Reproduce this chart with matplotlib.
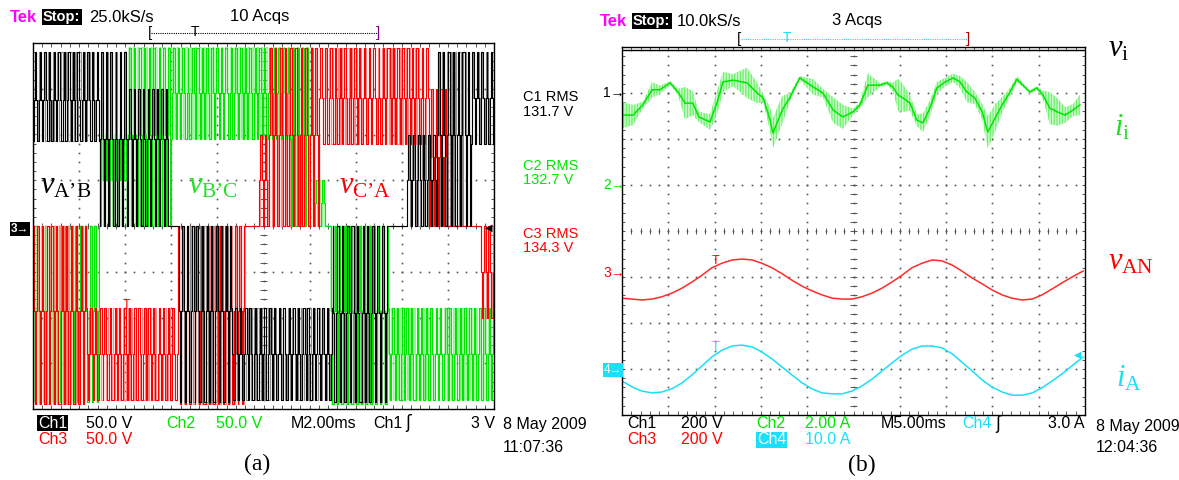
import numpy as np
import matplotlib
matplotlib.use('Agg')
import matplotlib.pyplot as plt

W, H = 1179, 480
plt.rcParams['mathtext.fontset'] = 'custom'
plt.rcParams['mathtext.rm'] = 'Liberation Serif'
plt.rcParams['mathtext.it'] = 'Liberation Serif:italic'

# ---------------- panel (a): PWM line voltages -----------------
# segments: [t_start, t_end, peak level, middle level, base level]  (divisions)
CH1_A_SEGS = [
    [0.00, 1.45, 3.80, 2.75, 1.85],
    [1.45, 2.05, 3.80, 1.90, 0.00],
    [2.05, 2.95, 3.00, 1.90, 0.00],
    [3.15, 4.30, -3.85, -1.85, 0.00],
    [4.30, 6.50, -3.80, -2.80, -1.80],
    [6.50, 7.70, -3.85, -1.90, 0.00],
    [8.10, 8.75, 2.00, 1.00, 0.00],
    [8.75, 9.50, 3.80, 2.00, 0.00],
    [9.50, 10.0, 3.80, 2.80, 1.80],
]
CH2_A_SEGS = [
    [0.00, 1.45, -3.85, -1.85, 0.00],
    [1.45, 2.05, 2.00, 1.00, 0.00],
    [2.05, 3.00, 3.90, 2.00, 0.00],
    [3.00, 5.60, 3.90, 2.90, 1.90],
    [5.60, 6.10, 3.90, 2.00, 0.00],
    [6.10, 6.35, 1.00, 0.50, 0.00],
    [6.45, 7.70, -3.90, -1.85, 0.00],
    [7.70, 10.0, -3.80, -2.80, -1.80],
]
CH3_A_SEGS = [
    [0.00, 1.15, -3.90, -1.85, 0.00],
    [1.15, 3.15, -3.80, -2.80, -1.80],
    [3.15, 4.60, -3.90, -1.85, 0.00],
    [4.90, 5.10, 2.00, 1.00, 0.00],
    [5.10, 6.20, 3.90, 2.00, 0.00],
    [6.20, 8.60, 3.90, 2.80, 1.80],
    [8.60, 9.00, 3.00, 1.50, 0.00],
    [9.70, 10.0, -2.00, -1.00, 0.00],
]
SW_PERIOD = 0.105
DUTY_BASE = [0.12, 0.20, 0.08, 0.26, 0.15, 0.05, 0.22, 0.10, 0.18]
DUTY_MID = [0.32, 0.38, 0.28, 0.42, 0.35, 0.25, 0.40, 0.30, 0.36]
RMS_LABELS = ["C1 RMS", "131.7 V", "C2 RMS", "132.7 V", "C3 RMS", "134.3 V"]

# ---------------- panel (b) -----------------
VI_LEVEL = 3.93
T_II = [0.02, 0.24, 0.45, 0.65, 0.82, 1.04, 1.21, 1.36, 1.53, 1.66, 1.90, 2.05, 2.18, 2.40,
        2.70, 2.92, 3.05, 3.20, 3.26, 3.46, 3.63, 3.84, 4.13, 4.34, 4.56, 4.77, 4.99, 5.14,
        5.31, 5.57, 5.72, 5.85, 5.96, 6.07, 6.22, 6.37, 6.50, 6.65, 6.80, 6.98, 7.15, 7.30,
        7.45, 7.62, 7.78, 7.90, 8.06, 8.21, 8.38, 8.53, 8.66, 8.81, 8.96, 9.09, 9.24, 9.40,
        9.57, 9.74, 9.89]
II = [2.52, 2.52, 2.74, 3.07, 3.07, 3.22, 3.02, 2.78, 2.78, 2.48, 2.37, 2.78, 3.24, 3.28,
      3.22, 3.00, 2.89, 2.41, 2.13, 2.63, 2.91, 3.33, 3.13, 3.00, 2.63, 2.48, 2.59, 2.74,
      3.17, 3.17, 3.22, 3.13, 2.96, 2.89, 2.78, 2.41, 2.35, 2.67, 3.11, 3.24, 3.33, 3.24,
      3.02, 2.89, 2.59, 2.15, 2.46, 2.74, 3.02, 3.30, 3.17, 3.02, 3.11, 2.96, 2.67, 2.59,
      2.52, 2.63, 2.74]
II_RIPPLE = [0.28, 0.22, 0.07, 0.17, 0.09, 0.04, 0.07, 0.35, 0.26, 0.11, 0.17, 0.26, 0.22, 0.13,
             0.33, 0.22, 0.09, 0.26, 0.33, 0.30, 0.09, 0.04, 0.17, 0.09, 0.28, 0.26, 0.07, 0.07,
             0.26, 0.04, 0.04, 0.09, 0.35, 0.30, 0.17, 0.13, 0.20, 0.17, 0.13, 0.09, 0.09, 0.13,
             0.22, 0.13, 0.17, 0.35, 0.30, 0.17, 0.09, 0.07, 0.04, 0.04, 0.04, 0.09, 0.35, 0.30,
             0.17, 0.13, 0.22]
T_SINE = [0.00, 0.22, 0.43, 0.65, 0.86, 1.08, 1.30, 1.51, 1.73, 1.94, 2.16, 2.38, 2.59, 2.81,
          3.02, 3.24, 3.46, 3.67, 3.89, 4.10, 4.32, 4.54, 4.75, 4.97, 5.18, 5.40, 5.62, 5.83,
          6.05, 6.26, 6.48, 6.70, 6.91, 7.13, 7.34, 7.56, 7.78, 7.99, 8.21, 8.42, 8.64, 8.86,
          9.07, 9.29, 9.50, 9.72, 9.96]
VAN = [-1.46, -1.48, -1.50, -1.48, -1.43, -1.35, -1.24, -1.11, -0.96, -0.80, -0.70, -0.63,
       -0.61, -0.63, -0.70, -0.80, -0.93, -1.07, -1.20, -1.30, -1.39, -1.46, -1.48, -1.48,
       -1.43, -1.35, -1.24, -1.11, -0.96, -0.80, -0.70, -0.63, -0.65, -0.74, -0.87, -1.02,
       -1.15, -1.28, -1.39, -1.46, -1.50, -1.48, -1.39, -1.26, -1.13, -1.00, -0.87]
IA = [-3.26, -3.39, -3.48, -3.52, -3.50, -3.43, -3.30, -3.13, -2.93, -2.74, -2.59, -2.50,
      -2.48, -2.52, -2.63, -2.78, -2.96, -3.13, -3.30, -3.43, -3.52, -3.54, -3.54, -3.48,
      -3.37, -3.22, -3.04, -2.87, -2.70, -2.57, -2.50, -2.50, -2.54, -2.67, -2.85, -3.04,
      -3.24, -3.39, -3.50, -3.57, -3.57, -3.52, -3.41, -3.26, -3.11, -2.93, -2.74]

BLACK, GRAY = '#000000', '#8a8a8a'
GREEN, LGREEN = '#00e600', '#86f586'
RED, LRED = '#ff0000', '#ff8c8c'
CYAN = '#18e0f8'
MAG = '#ff00ff'
SANS = 'Liberation Sans'
SERIF = 'Liberation Serif'
APOS = '\u2019'

fig = plt.figure(figsize=(W / 100, H / 100), dpi=100)
fig.patch.set_facecolor('white')


def px_axes(x0, y0, x1, y1):
    return fig.add_axes([x0 / W, 1 - y1 / H, (x1 - x0) / W, (y1 - y0) / H])


def T(x, y, s, ha='left', va='center', **kw):
    kw.setdefault('family', SANS)
    return fig.text(x / W, 1 - y / H, s, ha=ha, va=va, **kw)


def scope_grid(ax):
    ax.set_xlim(0, 10)
    ax.set_ylim(-4, 4)
    ax.set_xticks([])
    ax.set_yticks([])
    for sp in ax.spines.values():
        sp.set_linewidth(1.0)
        sp.set_color('black')
        sp.set_zorder(10)
    gc = '#555555'
    mx = np.arange(0, 10.001, 0.2)
    my = np.arange(-4, 4.001, 0.2)
    for gx in range(1, 10):
        ax.plot([gx] * len(my), my, ls='none', marker='s', ms=1.2, mew=0, color=gc, zorder=1)
    for gy in range(-3, 4):
        ax.plot(mx, [gy] * len(mx), ls='none', marker='s', ms=1.2, mew=0, color=gc, zorder=1)
    ax.vlines(mx, -0.07, 0.07, color=gc, lw=0.7, zorder=1)
    ax.hlines(my, 4.93, 5.07, color=gc, lw=0.7, zorder=1)
    ax.vlines(mx, 3.92, 4, color=gc, lw=0.7, zorder=1)
    ax.vlines(mx, -4, -3.92, color=gc, lw=0.7, zorder=1)
    ax.hlines(my, 0, 0.07, color=gc, lw=0.7, zorder=1)
    ax.hlines(my, 9.93, 10, color=gc, lw=0.7, zorder=1)


def pwm(segs, sw, shift):
    xs, ys = [], []
    n_d = len(DUTY_BASE)
    for (t0, t1, hi, mid, base) in segs:
        n = max(1, int(round((t1 - t0) / sw)))
        p = (t1 - t0) / n
        xs += [t0, t0]
        ys += [0.0, base]
        for k in range(n):
            s = t0 + k * p
            a = DUTY_BASE[(k + shift) % n_d] * p
            b = DUTY_MID[(k + 2 * shift) % n_d] * p
            xs += [s, s + a, s + a, s + b, s + b, s + p - b, s + p - b, s + p - a, s + p - a, s + p]
            ys += [base, base, mid, mid, hi, hi, mid, mid, base, base]
        xs += [t1, t1]
        ys += [base, 0.0]
    return xs, ys


def sub_label(main, sub):
    return '$\\mathit{' + main + '}_{\\mathrm{' + sub + '}}$'


# ---------------- panel (a) ----------------
axa = px_axes(33, 43, 494, 409)
scope_grid(axa)
layers = [(CH2_A_SEGS, LGREEN, GREEN), (CH3_A_SEGS, LRED, RED), (CH1_A_SEGS, GRAY, BLACK)]
for segs, light, dark in layers:
    x, y = pwm(segs, SW_PERIOD * 0.93, 4)
    axa.plot(x, y, color=light, lw=0.8, zorder=2)
for segs, light, dark in layers:
    x, y = pwm(segs, SW_PERIOD, 0)
    axa.plot(x, y, color=dark, lw=0.8, zorder=3)

# labels for (a)
T(40, 186, sub_label('v', 'A' + APOS + 'B'), family=SERIF, fontsize=22, color='black')
T(188, 186, sub_label('v', 'B' + APOS + 'C'), family=SERIF, fontsize=22, color='#22e022')
T(339, 186, sub_label('v', 'C' + APOS + 'A'), family=SERIF, fontsize=22, color=RED)

# RMS readouts
rms_y = [97, 112, 166, 180, 234, 248]
rms_c = ['black', 'black', GREEN, GREEN, RED, RED]
for s, yy, c in zip(RMS_LABELS, rms_y, rms_c):
    T(523, yy, s, fontsize=10.5, color=c)

# header (a)
T(10, 17, 'Tek', fontsize=12, color=MAG, weight='bold')
T(43, 17, 'Stop:', fontsize=10.5, color='white', weight='bold',
  bbox=dict(facecolor='black', edgecolor='none', pad=1.0))
T(89, 17, '25.0kS/s', fontsize=12)
T(230, 17, '10 Acqs', fontsize=12)
fig.add_artist(plt.Line2D([151 / W, 378 / W], [1 - 33 / H] * 2, color='black', lw=0.8, ls=(0, (1, 1))))
T(148, 33, '[', fontsize=11, color='black')
T(376, 33, ']', fontsize=11, color='#800080')
T(195, 32, 'T', fontsize=10, color='black', ha='center')

# markers (a)
T(11, 229, '3\u2192', fontsize=8.5, color='white', weight='bold',
  bbox=dict(facecolor='black', edgecolor='none', pad=0.8))
T(489, 228, '\u25c0', fontsize=7, color='black', ha='center', family='DejaVu Sans')
T(127, 305, 'T', fontsize=9, color=RED, ha='center')

# footer (a)
T(38, 423, 'Ch1', fontsize=11.5, color='white',
  bbox=dict(facecolor='black', edgecolor='none', pad=0.5))
T(86, 423, '50.0 V', fontsize=11.5)
T(166, 423, 'Ch2', fontsize=11.5, color=GREEN)
T(216, 423, '50.0 V', fontsize=11.5, color=GREEN)
T(291, 423, 'M2.00ms', fontsize=11.5)
T(373, 423, 'Ch1', fontsize=11.5)
T(405, 423, '\u0283', fontsize=12, family='DejaVu Sans')
T(495, 423, '3 V', fontsize=11.5, ha='right')
T(38, 439, 'Ch3', fontsize=11.5, color=RED)
T(86, 439, '50.0 V', fontsize=11.5, color=RED)
T(503, 425, '8 May 2009', fontsize=11.5)
T(503, 447, '11:07:36', fontsize=11.5)
T(257, 464, '(a)', family=SERIF, fontsize=17, ha='center')

# ---------------- panel (b) ----------------
axb = px_axes(622, 47, 1085, 415)
scope_grid(axb)
axb.plot([0, 10], [VI_LEVEL, VI_LEVEL], color='black', lw=1.0, zorder=3)
lo = np.array(II) - np.array(II_RIPPLE)
hi = np.array(II) + np.array(II_RIPPLE)
axb.fill_between(T_II, lo, hi, facecolor='#d2ffd2', edgecolor='#72ee72', hatch='||||||', lw=0, zorder=2)
axb.plot(T_II, II, color=GREEN, lw=1.1, zorder=3)
axb.plot(T_SINE, VAN, color='#ff2a2a', lw=1.1, zorder=3)
axb.plot(T_SINE, IA, color=CYAN, lw=1.1, zorder=3)

# labels (b)
T(1108, 49, sub_label('v', 'i'), family=SERIF, fontsize=22, color='black')
T(1114, 128, sub_label('i', 'i'), family=SERIF, fontsize=22, color='#22e022')
T(1108, 262, sub_label('v', 'AN'), family=SERIF, fontsize=22, color=RED)
T(1116, 379, sub_label('i', 'A'), family=SERIF, fontsize=22, color=CYAN)

# markers (b)
T(603, 93, '1\u2192', fontsize=10, color='black')
T(603, 185, '2\u2192', fontsize=10, color=GREEN)
T(603, 273, '3\u2192', fontsize=10, color=RED)
T(604, 370, '4\u2192', fontsize=8.5, color='white',
  bbox=dict(facecolor=CYAN, edgecolor='none', pad=0.8))
T(1078, 355, '\u25c0', fontsize=7, color=CYAN, ha='center', family='DejaVu Sans')
T(716, 261, 'T', fontsize=9, color=RED, ha='center')
T(716, 347, 'T', fontsize=9, color=CYAN, ha='center')

# header (b)
T(600, 21, 'Tek', fontsize=12, color=MAG, weight='bold')
T(633, 21, 'Stop:', fontsize=10.5, color='white', weight='bold',
  bbox=dict(facecolor='black', edgecolor='none', pad=1.0))
T(677, 21, '10.0kS/s', fontsize=12)
T(832, 21, '3 Acqs', fontsize=12)
fig.add_artist(plt.Line2D([741 / W, 968 / W], [1 - 39 / H] * 2, color=CYAN, lw=0.8, ls=(0, (1, 1))))
T(737, 39, '[', fontsize=11, color='black')
T(966, 39, ']', fontsize=11, color='#b00000')
T(787, 38, 'T', fontsize=10, color=CYAN, ha='center')

# footer (b)
T(627, 424, 'Ch1', fontsize=11.5)
T(681, 424, '200 V', fontsize=11.5)
T(756, 424, 'Ch2', fontsize=11.5, color=GREEN)
T(805, 424, '2.00 A', fontsize=11.5, color=GREEN)
T(881, 424, 'M5.00ms', fontsize=11.5)
T(962, 424, 'Ch4', fontsize=11.5, color=CYAN)
T(995, 424, '\u0283', fontsize=12, family='DejaVu Sans')
T(1084, 424, '3.0 A', fontsize=11.5, ha='right')
T(627, 440, 'Ch3', fontsize=11.5, color=RED)
T(681, 440, '200 V', fontsize=11.5, color=RED)
T(757, 440, 'Ch4', fontsize=11.5, color='white',
  bbox=dict(facecolor=CYAN, edgecolor='none', pad=0.5))
T(805, 440, '10.0 A', fontsize=11.5, color=CYAN)
T(1096, 426, '8 May 2009', fontsize=11.5)
T(1096, 448, '12:04:36', fontsize=11.5)
T(862, 465, '(b)', family=SERIF, fontsize=17, ha='center')

fig.savefig('out.png', dpi=100, facecolor='white')
